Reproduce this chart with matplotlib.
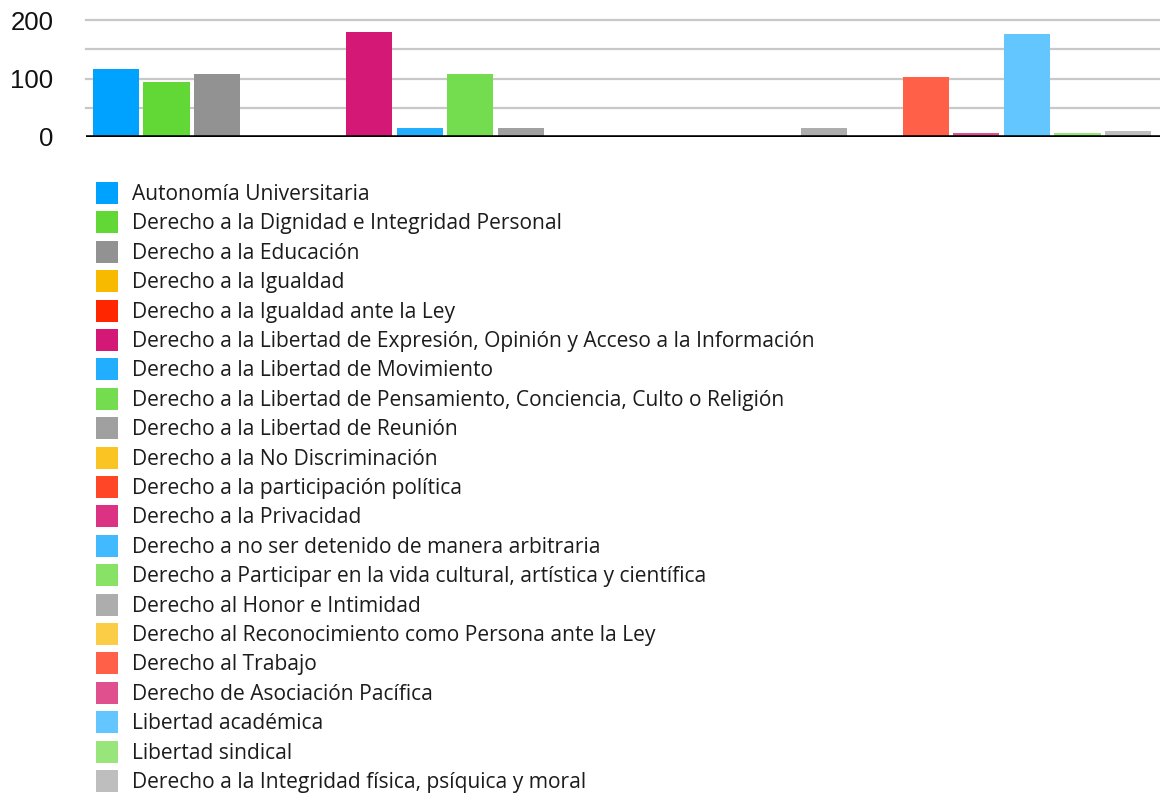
import matplotlib
matplotlib.use("Agg")
import matplotlib.pyplot as plt
from matplotlib.patches import Rectangle

series = [
    "Autonomía Universitaria",
    "Derecho a la Dignidad e Integridad Personal",
    "Derecho a la Educación",
    "Derecho a la Igualdad",
    "Derecho a la Igualdad ante la Ley",
    "Derecho a la Libertad de Expresión, Opinión y Acceso a la Información",
    "Derecho a la Libertad de Movimiento",
    "Derecho a la Libertad de Pensamiento, Conciencia, Culto o Religión",
    "Derecho a la Libertad de Reunión",
    "Derecho a la No Discriminación",
    "Derecho a la participación política",
    "Derecho a la Privacidad",
    "Derecho a no ser detenido de manera arbitraria",
    "Derecho a Participar en la vida cultural, artística y científica",
    "Derecho al Honor e Intimidad",
    "Derecho al Reconocimiento como Persona ante la Ley",
    "Derecho al Trabajo",
    "Derecho de Asociación Pacífica",
    "Libertad académica",
    "Libertad sindical",
    "Derecho a la Integridad física, psíquica y moral",
]
values = [116, 94, 107, 0, 0, 179, 15, 107, 15, 0, 0, 0, 0, 0, 15, 0, 102, 6, 176, 6, 11]
colors = [
    "#00A2FF", "#61D836", "#929292", "#F8BA00", "#FF2600",
    "#D41876", "#22AEFF", "#73DC4F", "#A0A0A0", "#FAC523",
    "#FF4626", "#DB3284", "#42BAFF", "#88E266", "#ADADAD",
    "#FBCC46", "#FF6047", "#E0508F", "#64C6FF", "#98E67B",
    "#BEBEBE",
]
yticks = [0, 100, 200]

W, H = 1160, 793
fig = plt.figure(figsize=(W / 100, H / 100), dpi=100)
fig.patch.set_facecolor("white")

# axes: x from 86 to 1160 px, y from 20 (200) to 137 (0)
ax = fig.add_axes([86 / W, 1 - 137 / H, (1160 - 86) / W, (137 - 20) / H])
ax.set_facecolor("white")
x = list(range(len(values)))
ax.bar(x, values, width=0.91, color=colors, zorder=3)
ax.set_xlim(-0.59, 20.63)
ax.set_ylim(0, 200)
for g in [50, 100, 150, 200]:
    ax.axhline(g, color="#c8c8c8", lw=1.6, zorder=1, clip_on=False)
ax.axhline(0, color="black", lw=2.6, zorder=4)
for s in ax.spines.values():
    s.set_visible(False)
ax.set_xticks([])
ax.set_yticks(yticks)
ax.set_yticklabels([str(t) for t in yticks], fontsize=18.5,
                   fontfamily="Liberation Sans", color="#111111")
ax.tick_params(axis="y", length=0, pad=23.5)
for lbl in ax.get_yticklabels():
    lbl.set_va("center_baseline")

# legend
y0, step = 193, 29.4
for i, (lab, c) in enumerate(zip(series, colors)):
    yc = y0 + i * step
    fig.add_artist(Rectangle((96 / W, 1 - (yc + 11) / H), 22 / W, 22 / H,
                             transform=fig.transFigure, color=c, lw=0))
    fig.text(132 / W, 1 - (yc + 1.5) / H, lab, va="center", ha="left",
             fontsize=15.1, fontfamily="Open Sans", color="#1c1c1c")

fig.savefig("out.png", dpi=100, facecolor="white")
